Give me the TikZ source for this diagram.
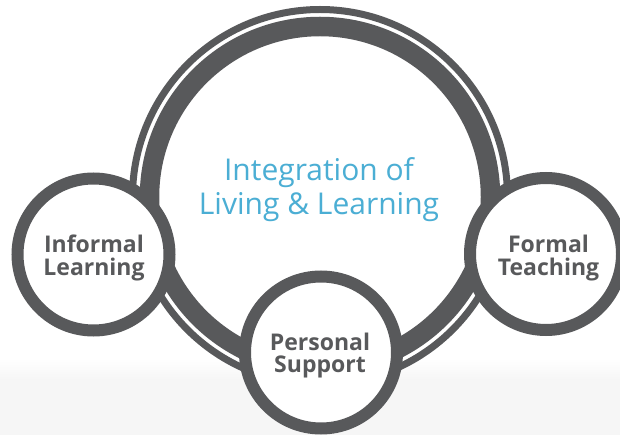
\documentclass[tikz,border=0pt]{standalone}
\usepackage{fontspec}
\setmainfont{Open Sans}
\definecolor{ringgrey}{RGB}{88,89,91}
\definecolor{titleblue}{RGB}{75,174,212}
\definecolor{bgrey}{RGB}{246,246,246}
\tikzset{
  smallcircle/.style={circle, draw=ringgrey, fill=white, line width=12pt,
    minimum size=152pt, inner sep=0pt},
  smalltext/.style={align=center, text=ringgrey, inner sep=0pt,
    font=\fontsize{23}{22.5}\selectfont\bfseries},
  thinring/.style={circle, draw=ringgrey, line width=7pt, minimum size=375pt, inner sep=0pt},
  thickring/.style={circle, draw=ringgrey, line width=19.5pt, minimum size=341pt, inner sep=0pt},
  titletext/.style={align=center, text=titleblue, inner sep=0pt,
    font=\fontsize{30}{34}\selectfont}
}
\begin{document}
\begin{tikzpicture}[x=1pt,y=-1pt]
\useasboundingbox (0,0) rectangle (620,435);
\fill[white] (0,0) rectangle (620,435);
\shade[top color=white, bottom color=bgrey] (0,358) rectangle (620,380);
\fill[bgrey] (0,380) rectangle (620,435);
\node[thinring] (outerring) at (320,197) {};
\node[thickring] (innerring) at (320,197) {};
\node[titletext] (title) at (319,189.5) {Integration of\\Living \& Learning};
\node[smallcircle] (informal) at (93.5,254.5) {};
\node[smalltext] (informaltext) at (94,258) {Informal\\Learning};
\node[smallcircle] (formal) at (546,254) {};
\node[smalltext] (formaltext) at (548.5,258) {Formal\\Teaching};
\node[smallcircle] (personal) at (321,352.5) {};
\node[smalltext] (personaltext) at (320,355.5) {Personal\\Support};
\end{tikzpicture}
\end{document}
